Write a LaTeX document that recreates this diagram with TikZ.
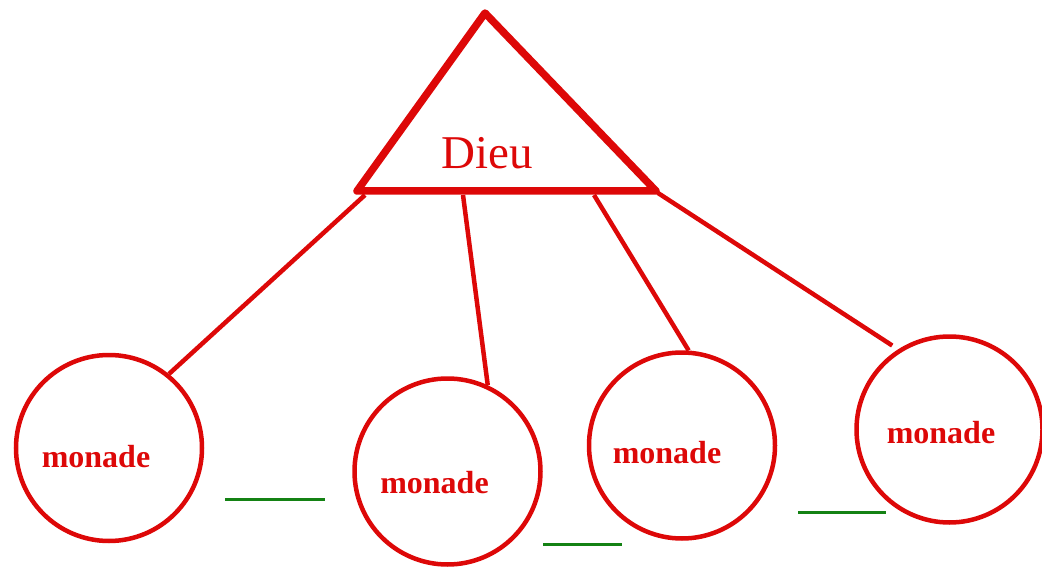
\documentclass[tikz,border=0pt]{standalone}
\usepackage{fontspec}
\setmainfont{Liberation Serif}
\definecolor{rd}{RGB}{221,8,8}
\definecolor{gr}{RGB}{20,130,20}
\begin{document}
\begin{tikzpicture}[x=1pt,y=-1pt,
  tri/.style={draw=rd, line width=7.5pt, line join=round},
  link/.style={draw=rd, line width=4.5pt},
  monad/.style={circle, draw=rd, line width=4.5pt, minimum size=186pt, inner sep=0pt},
  mtext/.style={text=rd, font=\fontsize{32}{36}\selectfont\bfseries, anchor=base, inner sep=0pt},
  god/.style={text=rd, font=\fontsize{47}{50}\selectfont, anchor=base, inner sep=0pt},
  sepline/.style={draw=gr, line width=3pt}]
\useasboundingbox (0,0) rectangle (1042,567);
% triangle
\coordinate (apex) at (485,13);
\coordinate (bl) at (357,191);
\coordinate (br) at (656,191);
\draw[tri] (apex) -- (bl) -- (br) -- cycle;
\node[god] (dieu) at (487.5,168) {Dieu};
% monads
\node[monad] (m1) at (109,448) {};
\node[monad] (m2) at (447.5,471.5) {};
\node[monad] (m3) at (682,445.5) {};
\node[monad] (m4) at (949.5,429.5) {};
\node[mtext] (t1) at (96,467) {monade};
\node[mtext] (t2) at (434.5,493) {monade};
\node[mtext] (t3) at (667,463) {monade};
\node[mtext] (t4) at (941,443) {monade};
% connectors
\coordinate (s1) at (365,195);
\coordinate (s2) at (463,195);
\coordinate (s3) at (594,195);
\coordinate (s4) at (658,193);
\draw[link] (s1) -- (m1.51.8);
\draw[link] (s2) -- (m2.65.5);
\draw[link] (s3) -- (m3.86.4);
\draw[link] (s4) -- ([shift={(-4,-5)}]m4.124.4);
% green lines
\coordinate (g1a) at (225,499); \coordinate (g1b) at (325,499);
\coordinate (g2a) at (543,544); \coordinate (g2b) at (622,544);
\coordinate (g3a) at (798,512); \coordinate (g3b) at (886,512);
\draw[sepline] (g1a) -- (g1b);
\draw[sepline] (g2a) -- (g2b);
\draw[sepline] (g3a) -- (g3b);
\end{tikzpicture}
\end{document}
